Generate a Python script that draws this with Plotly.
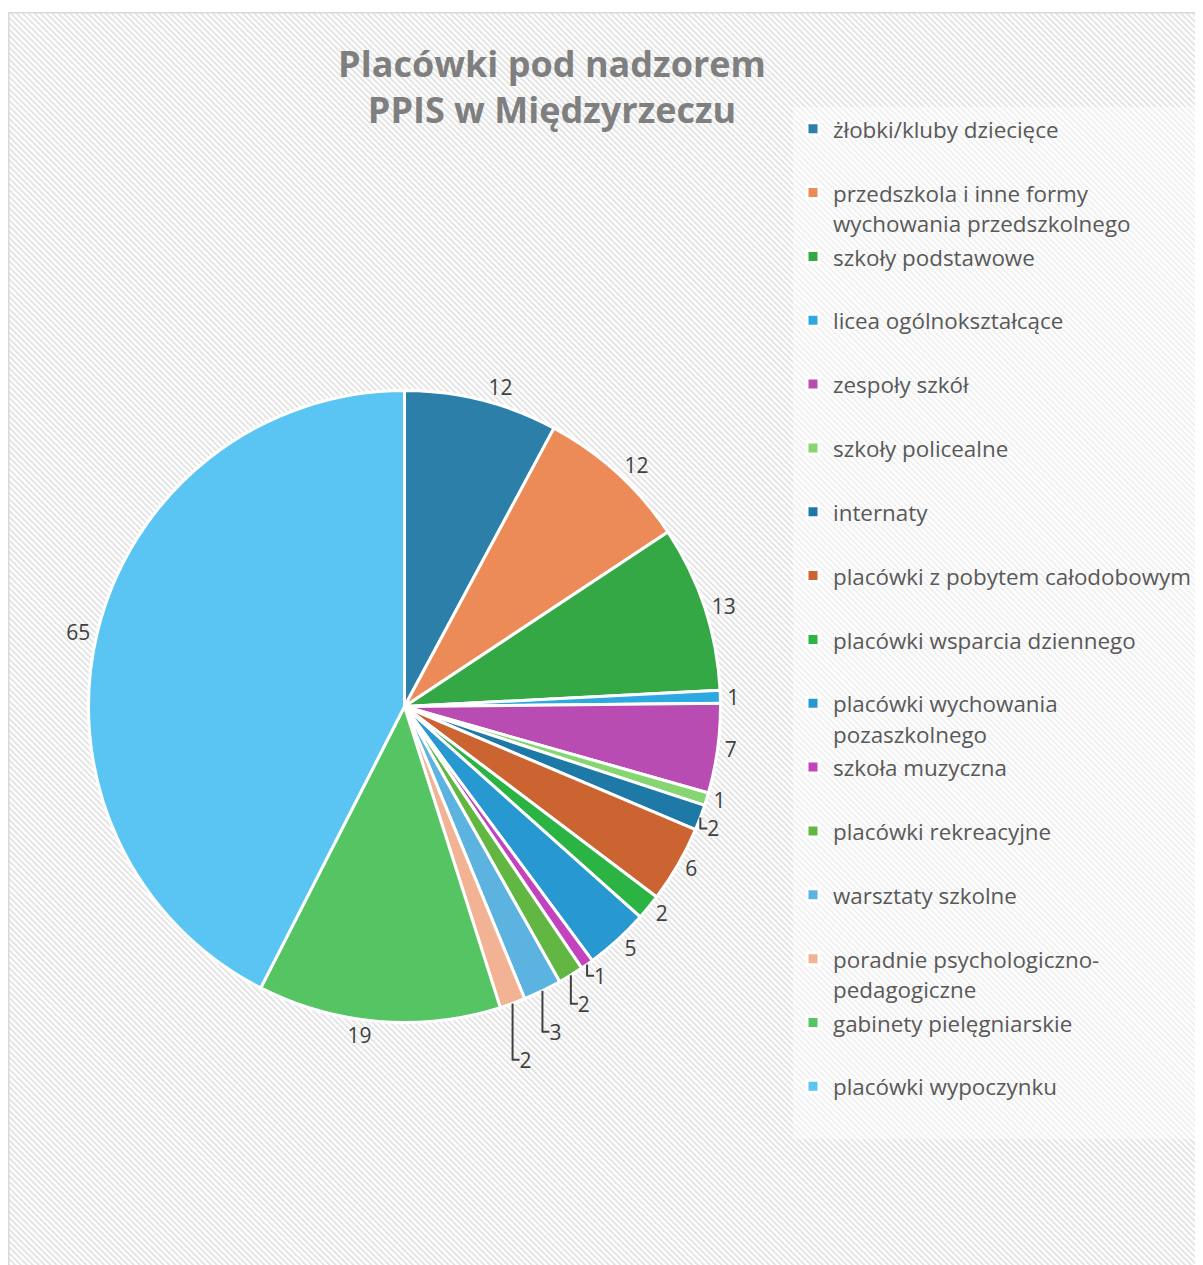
import base64
import plotly.graph_objects as go

categories = [
    "żłobki/kluby dziecięce",
    "przedszkola i inne formy<br>wychowania przedszkolnego",
    "szkoły podstawowe",
    "licea ogólnokształcące",
    "zespoły szkół",
    "szkoły policealne",
    "internaty",
    "placówki z pobytem całodobowym",
    "placówki wsparcia dziennego",
    "placówki wychowania<br>pozaszkolnego",
    "szkoła muzyczna",
    "placówki rekreacyjne",
    "warsztaty szkolne",
    "poradnie psychologiczno-<br>pedagogiczne",
    "gabinety pielęgniarskie",
    "placówki wypoczynku",
]
values = [12, 12, 13, 1, 7, 1, 2, 6, 2, 5, 1, 2, 3, 2, 19, 65]
colors = [
    "#2b7fa8", "#ec8a58", "#34a844", "#2ea8e0", "#b84cb2", "#85d670",
    "#1f79a6", "#cc6431", "#2bb443", "#2899d0", "#c342bd", "#62b642",
    "#5cb3e0", "#f2b394", "#55c563", "#5ac5f2",
]
title_text = "Placówki pod nadzorem<br>PPIS w Międzyrzeczu"

W, H = 1203, 1265

# legend labels: every entry occupies a two-line slot
legend_labels = []
for c in categories:
    txt = c if "<br>" in c else c + "<br> "
    legend_labels.append('<span style="font-size:22.4px">' + txt + "</span>")

# hatched chart-area background as an SVG image
fx, fy = 0, 4
bg_w, bg_h = W - fx + 20, H - fy + 20
svg = (
    f"<svg xmlns='http://www.w3.org/2000/svg' width='{bg_w}' height='{bg_h}'>"
    "<defs><pattern id='p' width='4.2' height='4.2' patternUnits='userSpaceOnUse' "
    "patternTransform='rotate(-45)'><rect width='2' height='4.2' fill='#e4e4e4'/></pattern></defs>"
    f"<rect x='0' y='0' width='{bg_w}' height='{bg_h}' fill='#ffffff'/>"
    f"<rect x='0' y='0' width='{bg_w}' height='{bg_h}' fill='url(#p)'/>"
    f"<rect x='0.75' y='0.75' width='{bg_w}' height='{bg_h}' fill='none' stroke='#d9d9d9' stroke-width='1.5'/>"
    "</svg>"
)
svg_uri = "data:image/svg+xml;base64," + base64.b64encode(svg.encode("utf-8")).decode()

cx, cy, r = 396.5, 698.5, 316

fig = go.Figure(
    go.Pie(
        labels=legend_labels,
        values=values,
        text=[str(v) for v in values],
        textinfo="text",
        textposition="outside",
        sort=False,
        direction="clockwise",
        rotation=0,
        marker=dict(colors=colors, line=dict(color="white", width=3)),
        outsidetextfont=dict(size=21, color="#404040", family="Open Sans"),
        hoverinfo="label+value",
        domain=dict(x=[(cx - r) / W, (cx + r) / W],
                    y=[1 - (cy + r) / H, 1 - (cy - r) / H]),
        showlegend=True,
    )
)

fig.update_layout(
    width=W,
    height=H,
    margin=dict(l=0, r=0, t=0, b=0),
    paper_bgcolor="white",
    font=dict(family="Open Sans", color="#595959"),
    title=dict(
        text=title_text,
        x=544 / W,
        xanchor="center",
        y=1 - 68.5 / H,
        yanchor="top",
        font=dict(size=36, color="#7f7f7f", family="Open Sans", weight="bold"),
    ),
    legend=dict(
        x=785 / W,
        xanchor="left",
        y=1 - 99 / H,
        yanchor="top",
        bgcolor="rgba(255,255,255,0.45)",
        font=dict(size=23.4, color="#595959", family="Open Sans"),
        valign="top",
        traceorder="normal",
    ),
    images=[
        dict(
            source=svg_uri,
            xref="paper", yref="paper",
            x=fx / W, y=1 - fy / H,
            sizex=bg_w / W, sizey=bg_h / H,
            xanchor="left", yanchor="top",
            sizing="stretch",
            layer="below",
        )
    ],
)

fig.write_html("out.html")
